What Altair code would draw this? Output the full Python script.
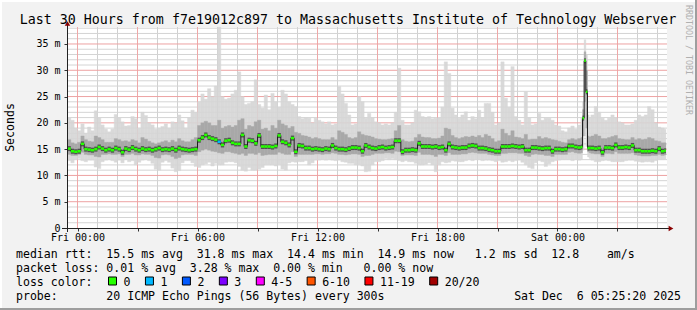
import altair as alt
import pandas as pd

MONO = "DejaVu Sans Mono"

# ---------------- data ----------------
TITLE = "Last 30 Hours from f7e19012c897 to Massachusetts Institute of Technology Webserver"
START_HOUR = -0.5          # Thu 23:30 (hours relative to Fri 00:00)
BIN_HOURS = 1 / 6          # 10-minute bins
END_HOUR = 29.42           # Sat 05:25

MEDIAN = [
    15.1, 14.6, 14.5, 14.6, 16.0, 15.0,
    14.9, 14.8, 15.0, 15.4, 15.1, 14.8,
    15.0, 14.8, 15.2, 15.0, 14.4, 15.1,
    14.9, 15.3, 15.0, 14.8, 15.1, 14.9,
    15.0, 14.8, 15.0, 15.2, 14.9, 15.0,
    14.9, 15.1, 14.8, 15.2, 15.0, 14.9,
    14.8, 14.9, 15.0, 16.7, 17.2, 17.7,
    17.2, 17.0, 16.8, 16.4, 15.8, 16.6,
    16.7, 16.2, 16.0, 16.0, 17.7, 15.5,
    16.7, 16.6, 16.1, 17.6, 15.5, 15.5,
    15.5, 15.4, 15.6, 17.6, 16.4, 16.2,
    15.8, 17.1, 14.5, 15.7, 15.6, 15.2,
    15.2, 15.0, 15.1, 15.0, 14.9, 15.1,
    15.0, 15.7, 15.2, 15.0, 15.0, 14.9,
    15.1, 15.3, 15.3, 15.2, 14.6, 15.7,
    15.4, 15.2, 15.1, 15.3, 15.4, 15.2,
    15.3, 15.4, 16.6, 16.6, 14.5, 14.8,
    14.8, 14.9, 14.8, 16.1, 15.5, 15.5,
    15.5, 15.4, 15.5, 15.3, 15.4, 14.8,
    16.0, 15.4, 15.3, 15.2, 15.3, 15.3,
    15.6, 15.7, 15.6, 15.2, 15.2, 15.1,
    14.9, 14.8, 14.6, 14.6, 15.5, 15.5,
    15.5, 15.6, 15.5, 15.4, 15.5, 14.8,
    14.8, 15.3, 15.3, 15.2, 15.1, 15.2,
    15.2, 14.6, 15.0, 15.0, 14.9, 15.0,
    15.6, 15.6, 15.4, 15.3, 18.2, 28.8,
    15.2, 15.2, 15.1, 15.2, 14.4, 15.3,
    15.3, 15.2, 15.8, 15.3, 15.3, 15.4,
    15.3, 15.7, 14.8, 14.8, 14.6, 14.6,
    14.6, 14.7, 14.6, 15.1, 14.6, 14.7,
]
SMOKE_MAX = [
    21.0, 20.5, 19.0, 18.5, 19.8, 18.0,
    19.2, 18.5, 22.3, 21.0, 19.6, 18.8,
    18.3, 18.8, 21.6, 21.0, 20.2, 19.4,
    19.5, 21.2, 20.8, 19.0, 22.0, 21.4,
    20.0, 19.6, 18.8, 19.0, 19.3, 19.8,
    19.0, 20.2, 20.0, 21.5, 20.4, 19.0,
    21.0, 22.4, 22.0, 24.0, 25.5, 24.5,
    26.5, 25.0, 27.0, 38.2, 25.0, 24.5,
    24.7, 25.5, 26.2, 29.7, 25.0, 23.5,
    23.7, 24.0, 28.2, 23.5, 22.8, 25.3,
    22.5, 25.6, 24.0, 23.0, 26.2, 25.5,
    24.0, 23.5, 23.1, 21.2, 20.8, 21.0,
    20.9, 20.0, 20.9, 20.5, 20.2, 19.8,
    20.2, 19.6, 19.8, 26.9, 25.5, 23.7,
    21.5, 19.6, 19.8, 25.0, 24.0, 20.9,
    21.8, 21.0, 20.2, 20.0, 19.6, 19.8,
    19.6, 20.0, 22.0, 30.4, 20.5, 19.6,
    19.6, 20.0, 22.4, 22.1, 21.2, 21.0,
    21.2, 20.8, 20.9, 21.0, 23.0, 31.6,
    29.4, 22.8, 21.5, 20.9, 21.5, 22.1,
    20.5, 21.2, 20.8, 22.4, 21.0, 23.7,
    23.7, 22.0, 19.6, 20.0, 31.6, 24.7,
    23.0, 30.7, 21.2, 20.5, 19.6, 25.9,
    21.0, 19.6, 19.8, 21.8, 20.5, 20.9,
    20.9, 20.5, 19.6, 19.4, 18.5, 18.3,
    19.0, 19.4, 18.8, 19.6, 24.0, 35.8,
    21.5, 21.5, 23.1, 22.0, 20.9, 20.5,
    20.9, 21.5, 21.0, 20.2, 20.0, 19.6,
    19.6, 19.8, 20.5, 21.5, 21.2, 21.5,
    23.1, 22.5, 20.0, 19.2, 19.0, 18.8,
]
SMOKE_MIN = [
    12.8, 12.4, 13.0, 13.2, 12.8, 12.6,
    12.9, 12.9, 11.6, 11.3, 12.6, 12.9,
    13.0, 12.8, 12.5, 12.9, 12.4, 13.0,
    12.6, 12.8, 12.0, 12.5, 12.9, 13.0,
    12.8, 12.3, 11.2, 11.0, 12.5, 12.8,
    12.5, 11.4, 10.7, 10.9, 12.4, 12.8,
    12.8, 12.4, 11.7, 11.5, 12.0, 12.2,
    12.5, 11.8, 12.3, 12.0, 12.0, 12.5,
    12.6, 12.6, 12.4, 11.7, 11.0, 10.8,
    11.5, 11.0, 11.0, 11.2, 11.5, 12.0,
    12.0, 12.0, 11.8, 12.0, 11.2, 11.0,
    12.4, 12.6, 12.5, 12.6, 12.6, 12.8,
    12.0, 12.4, 12.9, 12.9, 13.0, 12.9,
    13.0, 12.9, 12.8, 12.9, 12.6, 12.5,
    12.3, 12.3, 12.0, 12.0, 11.8, 10.7,
    10.8, 12.0, 12.6, 12.6, 12.8, 13.2,
    13.0, 13.2, 13.0, 12.8, 12.6, 12.8,
    12.6, 12.6, 12.3, 12.0, 12.0, 12.1,
    12.4, 12.0, 10.7, 12.0, 12.6, 12.4,
    12.5, 12.8, 12.7, 12.6, 12.6, 12.8,
    13.0, 12.8, 13.0, 13.0, 12.8, 12.9,
    12.9, 12.8, 12.6, 12.8, 12.5, 12.6,
    12.8, 12.6, 12.8, 12.9, 12.5, 12.0,
    11.5, 11.3, 12.4, 12.8, 12.6, 11.7,
    12.2, 12.6, 12.8, 12.9, 13.0, 13.0,
    13.0, 12.8, 13.0, 12.9, 14.0, 16.5,
    13.3, 12.9, 12.6, 12.6, 12.8, 12.9,
    12.8, 12.6, 12.6, 12.6, 12.6, 12.8,
    12.9, 12.9, 12.7, 12.6, 12.5, 12.6,
    12.6, 12.5, 12.8, 13.0, 13.0, 13.1,
]
SMOKE_MID_HI = [
    16.8, 16.2, 16.0, 16.3, 17.5, 16.8,
    16.5, 16.4, 17.5, 17.2, 16.8, 16.3,
    16.3, 16.3, 17.0, 16.8, 16.5, 16.6,
    16.4, 16.8, 16.6, 16.2, 17.2, 16.9,
    16.5, 16.2, 16.0, 16.2, 16.4, 16.6,
    16.3, 16.7, 16.4, 17.0, 16.6, 16.4,
    16.4, 16.8, 17.2, 19.5, 20.0, 20.3,
    20.0, 19.5, 19.5, 20.5, 19.0, 19.3,
    19.5, 19.2, 19.5, 20.5, 20.8, 18.8,
    19.5, 19.3, 20.2, 20.5, 18.8, 19.0,
    18.5, 19.5, 19.0, 20.5, 19.8, 19.5,
    19.0, 19.3, 18.2, 18.0, 17.6, 17.5,
    17.3, 17.0, 17.2, 17.0, 16.8, 16.8,
    16.8, 17.2, 16.8, 18.5, 18.2, 17.8,
    17.2, 17.0, 17.2, 18.3, 17.8, 17.6,
    17.5, 17.3, 17.0, 16.9, 16.8, 16.8,
    16.9, 17.0, 18.5, 19.5, 16.8, 16.5,
    16.4, 16.5, 17.2, 17.8, 17.3, 17.2,
    17.2, 17.0, 17.0, 17.1, 17.5, 19.0,
    18.8, 17.6, 17.2, 17.0, 17.2, 17.4,
    17.3, 17.5, 17.3, 17.6, 17.2, 17.8,
    17.5, 17.0, 16.4, 16.6, 18.8, 18.0,
    17.6, 18.5, 17.3, 17.2, 17.0, 17.8,
    16.8, 16.9, 16.9, 17.4, 17.0, 17.2,
    17.0, 16.8, 16.7, 16.5, 16.3, 16.2,
    16.8, 17.0, 16.8, 17.0, 22.0, 32.0,
    17.4, 17.5, 17.8, 17.5, 17.0, 17.0,
    17.2, 17.4, 17.6, 17.0, 16.9, 16.8,
    16.8, 17.2, 16.8, 17.0, 16.8, 16.9,
    17.2, 17.0, 16.6, 16.5, 16.2, 16.2,
]
SMOKE_MID_LO = [
    14.0, 13.8, 13.8, 14.0, 14.4, 14.0,
    13.9, 13.9, 13.6, 13.5, 14.0, 14.0,
    14.1, 14.0, 14.0, 14.1, 13.6, 14.0,
    14.0, 14.2, 13.9, 13.9, 14.1, 14.0,
    14.0, 13.8, 13.4, 13.3, 13.9, 14.0,
    13.9, 13.6, 13.2, 13.4, 13.9, 14.0,
    14.0, 14.0, 13.8, 14.5, 14.8, 15.0,
    14.8, 14.6, 14.5, 14.3, 14.2, 14.5,
    14.5, 14.3, 14.2, 14.0, 14.2, 13.8,
    14.2, 14.2, 14.0, 14.3, 13.8, 13.9,
    14.0, 14.0, 14.0, 14.4, 14.2, 14.0,
    14.0, 14.5, 13.6, 14.0, 14.0, 14.0,
    14.0, 14.0, 14.1, 14.1, 14.0, 14.1,
    14.1, 14.3, 14.2, 14.0, 14.0, 13.9,
    14.0, 14.1, 14.1, 14.0, 13.6, 13.8,
    13.8, 14.0, 14.2, 14.2, 14.2, 14.3,
    14.3, 14.2, 14.6, 14.5, 13.8, 13.9,
    13.9, 13.9, 13.8, 14.4, 14.0, 14.0,
    14.0, 13.9, 13.6, 14.0, 14.0, 13.8,
    14.3, 14.0, 14.0, 14.0, 14.1, 14.1,
    14.3, 14.4, 14.3, 14.2, 14.2, 14.2,
    14.0, 13.9, 13.8, 13.8, 14.2, 14.2,
    14.3, 14.3, 14.3, 14.2, 14.2, 13.8,
    13.6, 14.0, 14.1, 14.0, 14.0, 13.8,
    13.8, 13.6, 14.0, 14.0, 14.0, 14.0,
    14.4, 14.5, 14.3, 14.2, 16.0, 21.0,
    14.3, 14.2, 14.1, 14.1, 13.6, 14.2,
    14.2, 14.1, 14.5, 14.2, 14.2, 14.2,
    14.2, 14.3, 13.9, 13.8, 13.7, 13.7,
    13.7, 13.8, 13.8, 14.0, 13.8, 13.9,
]
# bins with 1 lost ping (blue median)
LOSS_ONE_BINS = [45]

# 5-minute detail of the latency spike on Saturday (replaces bins 154-156)
SPIKE_FIRST_BIN = 154
SPIKE_BIN_COUNT = 3
SPIKE_STEP = 1 / 12
SPIKE_MEDIAN = [15.4, 20.9, 31.8, 25.9, 15.2, 15.2]
SPIKE_MAX = [20.9, 24.0, 35.8, 33.0, 21.5, 21.0]
SPIKE_MIN = [13.0, 14.8, 17.5, 15.5, 13.5, 13.2]
SPIKE_MID_HI = [17.2, 22.5, 33.5, 30.0, 17.5, 17.3]
SPIKE_MID_LO = [14.3, 17.5, 24.0, 19.0, 14.5, 14.3]

X_TICKS = [0, 6, 12, 18, 24]
X_LABELS = ["Fri 00:00", "Fri 06:00", "Fri 12:00", "Fri 18:00", "Sat 00:00"]
Y_TICKS = [0, 5, 10, 15, 20, 25, 30, 35]
Y_LABELS = ["0", "5 m", "10 m", "15 m", "20 m", "25 m", "30 m", "35 m"]

LOSS_LABELS = ["0", "1", "2", "3", "4-5", "6-10", "11-19", "20/20"]
LOSS_COLORS = ["#26ff00", "#00b8ff", "#0059ff", "#7e00ff", "#ff00ff", "#ff5500", "#ff0000", "#a10000"]

LEGEND_LINES = [
    "median rtt:  15.5 ms avg  31.8 ms max  14.4 ms min  14.9 ms now   1.2 ms sd  12.8    am/s",
    "packet loss: 0.01 % avg  3.28 % max  0.00 % min   0.00 % now",
    "loss color:",
    "probe:       20 ICMP Echo Pings (56 Bytes) every 300s",
]
DATE_TEXT = "Sat Dec  6 05:25:20 2025"
Y_TITLE = "Seconds"
SIDE_TEXT = "RRDTOOL / TOBI OETIKER"

# ---------------- build table ----------------
rows = []
for k in range(len(MEDIAN)):
    if SPIKE_FIRST_BIN <= k < SPIKE_FIRST_BIN + SPIKE_BIN_COUNT:
        continue
    rows.append(dict(t=START_HOUR + k * BIN_HOURS, med=MEDIAN[k], hi=SMOKE_MAX[k], lo=SMOKE_MIN[k],
                     mh=SMOKE_MID_HI[k], ml=SMOKE_MID_LO[k], loss="1" if k in LOSS_ONE_BINS else "0"))
for j in range(len(SPIKE_MEDIAN)):
    rows.append(dict(t=START_HOUR + SPIKE_FIRST_BIN * BIN_HOURS + j * SPIKE_STEP, med=SPIKE_MEDIAN[j],
                     hi=SPIKE_MAX[j], lo=SPIKE_MIN[j], mh=SPIKE_MID_HI[j], ml=SPIKE_MID_LO[j], loss="0"))
df = pd.DataFrame(rows).sort_values("t").reset_index(drop=True)
df["t2"] = df["t"].shift(-1).fillna(END_HOUR)

# ---------------- layout ----------------
W, H = 600, 201
PAD = {"left": 67, "top": 27, "right": 30, "bottom": 82}
XDOM = [-0.5, 29.5]
YDOM = [0, 38.23]
xscale = alt.Scale(domain=XDOM, nice=False, zero=False, range=[0.5, W + 0.5])
yscale = alt.Scale(domain=YDOM, nice=False, zero=False)
NB = "\u00a0"


def ternary(ticks, labels):
    return " : ".join(f"datum.value == {t} ? '{l}'" for t, l in zip(ticks, labels)) + " : ''"


ylabs = [l if " m" in l else l + NB + NB for l in Y_LABELS]
xaxis = alt.Axis(values=list(range(0, 30, 3)), labelExpr=ternary(X_TICKS, X_LABELS), tickSize=3,
                 labelPadding=9, labelBaseline="alphabetic", labelFont=MONO, labelFontSize=10,
                 labelColor="#000000", tickColor="#333333", domain=False, grid=False, title=None,
                 labelFlush=False, labelOverlap=False)
yaxis = alt.Axis(values=Y_TICKS, labelExpr=ternary(Y_TICKS, ylabs), tickSize=3, labelPadding=4,
                 labelBaseline="middle", labelFont=MONO, labelFontSize=10, labelColor="#000000",
                 tickColor="#333333", domain=False, grid=False, title=None, labelOverlap=False)

base = alt.Chart(df)
X = alt.X("t:Q", scale=xscale, axis=xaxis)
X2 = alt.X2("t2")


def Yf(field):
    return alt.Y(f"{field}:Q", scale=yscale, axis=yaxis)


V_MINOR = [h for h in range(0, 30) if h % 3 != 0]
V_MAJOR = [h for h in range(0, 30) if h % 3 == 0]
H_MINOR = [v for v in range(1, 39) if v % 5 != 0]
H_MAJOR = [v for v in range(5, 39) if v % 5 == 0]


def vgrid(vals, color):
    return alt.Chart(pd.DataFrame({"t": vals})).mark_rule(color=color, strokeWidth=1, opacity=1).encode(
        x=alt.X("t:Q", scale=xscale, axis=xaxis), y=alt.value(0), y2=alt.value(H))


def hgrid(vals, color):
    return alt.Chart(pd.DataFrame({"med": vals})).mark_rule(color=color, strokeWidth=1, opacity=1).encode(
        y=Yf("med"), x=alt.value(0), x2=alt.value(W))


grids = [vgrid(V_MINOR, "#d0d0d0"), hgrid(H_MINOR, "#d4d4d4"), vgrid(V_MAJOR, "#efa8a8"), hgrid(H_MAJOR, "#eda2a2")]

light = base.mark_rect(fill="#d6d6d6", stroke="#d6d6d6", strokeWidth=0.4, opacity=0.92).encode(
    x=X, x2=X2, y=Yf("lo"), y2="hi")
mid = base.mark_rect(fill="#a8a8a8", stroke="#a8a8a8", strokeWidth=0.4).encode(
    x=X, x2=X2, y=Yf("ml"), y2="mh")
core = base.mark_rule(color="#505050", strokeWidth=5).encode(
    x=X, x2=X2, y=Yf("med"))

step = base.mark_line(interpolate="step-after", color="#202020", strokeWidth=1).encode(
    x=X, y=Yf("med"))
green = base.mark_rule(strokeWidth=2.5).encode(
    x=X, x2=X2, y=Yf("med"),
    color=alt.Color("loss:N", scale=alt.Scale(domain=LOSS_LABELS, range=LOSS_COLORS), legend=None))

one = pd.DataFrame({"a": [0]})


def txt(s, x, y, size=11.55, align="left", angle=0, color="#000000", baseline="alphabetic"):
    return alt.Chart(one).mark_text(text=s.replace(" ", NB), align=align, baseline=baseline, font=MONO,
                                    fontSize=size, angle=angle, color=color).encode(
        x=alt.value(x), y=alt.value(y))


def rect(x, x2, y, y2, fill, stroke=None):
    kw = dict(fill=fill)
    if stroke:
        kw.update(stroke=stroke, strokeWidth=1)
    return alt.Chart(one).mark_rect(**kw).encode(x=alt.value(x), x2=alt.value(x2), y=alt.value(y), y2=alt.value(y2))


def rule(x, x2, y, y2, color):
    return alt.Chart(one).mark_rule(color=color, strokeWidth=1).encode(
        x=alt.value(x), x2=alt.value(x2), y=alt.value(y), y2=alt.value(y2))


def arrow(x, y, shape):
    return alt.Chart(one).mark_point(shape=shape, filled=True, size=30, color="#8b0000", opacity=1).encode(
        x=alt.value(x), y=alt.value(y))


deco = [
    rule(-5, 604, H + 0.5, H + 0.5, "#222222"),
    rule(0.5, 0.5, H + 4, -4, "#222222"),
    arrow(604, H + 0.5, "triangle-right"),
    arrow(0.5, -3.5, "triangle-up"),
    # frame
    rect(-67, 630, -27, -25, "#ffffff"),
    rect(-67, -65, -27, 283, "#ffffff"),
    rect(-67, 630, 281, 283, "#9e9e9e"),
    rect(628, 630, -27, 283, "#9e9e9e"),
    # texts
    txt(TITLE, 281, -3, size=13.3, align="center"),
    txt(Y_TITLE, -56, H / 2, angle=270, align="center", baseline="middle"),
    txt(SIDE_TEXT, 621, 33, size=8.3, angle=90, align="center", baseline="middle", color="#b0b0b0"),
    txt(LEGEND_LINES[0], -51, 231),
    txt(LEGEND_LINES[1], -51, 245),
    txt(LEGEND_LINES[2], -51, 259),
    txt(LEGEND_LINES[3], -51, 273),
    txt(DATE_TEXT, 614, 273, align="right"),
]

CHAR = 6.95
sx = 108.5 - 67
for lab, col in zip(LOSS_LABELS, LOSS_COLORS):
    deco.append(rect(sx, sx + 8, 250, 258, col, stroke="#000000"))
    deco.append(txt(lab, sx + 15, 259))
    sx += 30 + len(lab) * CHAR

chart = alt.layer(*grids, light, mid, core, step, green, *deco).properties(
    width=W, height=H, padding=PAD, autosize=alt.AutoSizeParams(type="none"), background="#f2f2f2"
).configure_view(fill="#ffffff", stroke=None)

chart.save("out.html", embed_options={"renderer": "svg", "actions": False})
